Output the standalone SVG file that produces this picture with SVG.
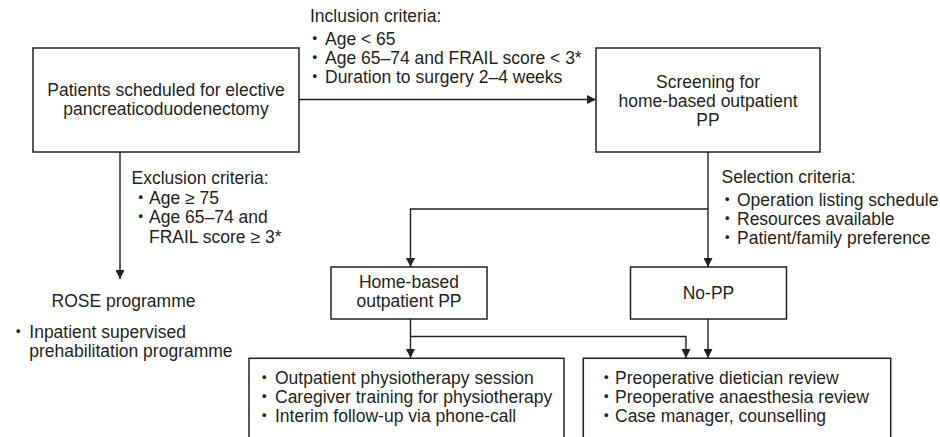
<svg xmlns="http://www.w3.org/2000/svg" width="940" height="437" viewBox="0 0 940 437">
<defs>
<marker id="arr" viewBox="0 0 10 10" refX="10" refY="5" markerWidth="9" markerHeight="9" markerUnits="userSpaceOnUse" orient="auto">
<path d="M0,0 L10,5 L0,10 z" fill="#231f20"/>
</marker>
<style>
text{font-family:"Liberation Sans","Noto Sans CJK JP",Arial,sans-serif;font-size:17.5px;fill:#231f20}
.c{text-anchor:middle}
.box{fill:#fff;stroke:#231f20;stroke-width:1.5}
.ln{fill:none;stroke:#231f20;stroke-width:1.4}
.ar{marker-end:url(#arr)}
</style>
</defs>
<rect width="940" height="437" fill="#fff"/>

<g id="connectors">
<path class="ln ar" d="M299,99.5 H596"/>
<path class="ln ar" d="M120,152 V279"/>
<path class="ln ar" d="M708,152 V267"/>
<path class="ln ar" d="M708,209 H410.5 V267"/>
<path class="ln ar" d="M410.5,319 V358"/>
<path class="ln ar" d="M410.5,336.5 H686 V358"/>
<path class="ln ar" d="M708,319 V358"/>
</g>

<g id="patients">
<rect class="box" x="33" y="48" width="266" height="104"/>
<text class="c" x="166" y="96">Patients scheduled for elective</text>
<text class="c" x="166" y="115">pancreaticoduodenectomy</text>
</g>

<g id="inclusion">
<text x="310" y="21.7">Inclusion criteria:</text>
<text y="45"><tspan x="306">・</tspan><tspan x="325">Age &lt; 65</tspan></text>
<text y="64.3"><tspan x="306">・</tspan><tspan x="325">Age 65–74 and FRAIL score &lt; 3*</tspan></text>
<text y="83.3"><tspan x="306">・</tspan><tspan x="325">Duration to surgery 2–4 weeks</tspan></text>
</g>

<g id="screening">
<rect class="box" x="596" y="48" width="224" height="104"/>
<text class="c" x="708" y="87.7">Screening for</text>
<text class="c" x="708" y="106.7">home-based outpatient</text>
<text class="c" x="708" y="126">PP</text>
</g>

<g id="exclusion">
<text x="131.5" y="184.3">Exclusion criteria:</text>
<text y="204.3"><tspan x="132">・</tspan><tspan x="149">Age ≥ 75</tspan></text>
<text y="223.3"><tspan x="132">・</tspan><tspan x="149">Age 65–74 and</tspan></text>
<text x="149" y="242.7">FRAIL score ≥ 3*</text>
</g>

<g id="selection">
<text x="721.5" y="183.3">Selection criteria:</text>
<text y="206"><tspan x="718.5">・</tspan><tspan x="737">Operation listing schedule</tspan></text>
<text y="225.3"><tspan x="718.5">・</tspan><tspan x="737">Resources available</tspan></text>
<text y="244.3"><tspan x="718.5">・</tspan><tspan x="737">Patient/family preference</tspan></text>
</g>

<g id="rose">
<text class="c" x="123.5" y="307.3">ROSE programme</text>
<text y="338"><tspan x="9.5">・</tspan><tspan x="29.3">Inpatient supervised</tspan></text>
<text x="29.3" y="356.6">prehabilitation programme</text>
</g>

<g id="home-based">
<rect class="box" x="331" y="267" width="156" height="52"/>
<text class="c" x="409" y="288.3">Home-based</text>
<text class="c" x="409" y="307">outpatient PP</text>
</g>

<g id="no-pp">
<rect class="box" x="630.5" y="267" width="156" height="52"/>
<text class="c" x="708.5" y="299">No-PP</text>
</g>

<g id="pp-activities">
<rect class="box" x="249" y="358.3" width="315" height="95"/>
<text y="384.3"><tspan x="255.5">・</tspan><tspan x="275">Outpatient physiotherapy session</tspan></text>
<text y="403.3"><tspan x="255.5">・</tspan><tspan x="275">Caregiver training for physiotherapy</tspan></text>
<text y="421.7"><tspan x="255.5">・</tspan><tspan x="275">Interim follow-up via phone-call</tspan></text>
</g>

<g id="common-activities">
<rect class="box" x="583.3" y="358.3" width="307.4" height="95"/>
<text y="384.3"><tspan x="597.5">・</tspan><tspan x="615">Preoperative dietician review</tspan></text>
<text y="403.3"><tspan x="597.5">・</tspan><tspan x="615">Preoperative anaesthesia review</tspan></text>
<text y="421.7"><tspan x="597.5">・</tspan><tspan x="615">Case manager, counselling</tspan></text>
</g>
</svg>
